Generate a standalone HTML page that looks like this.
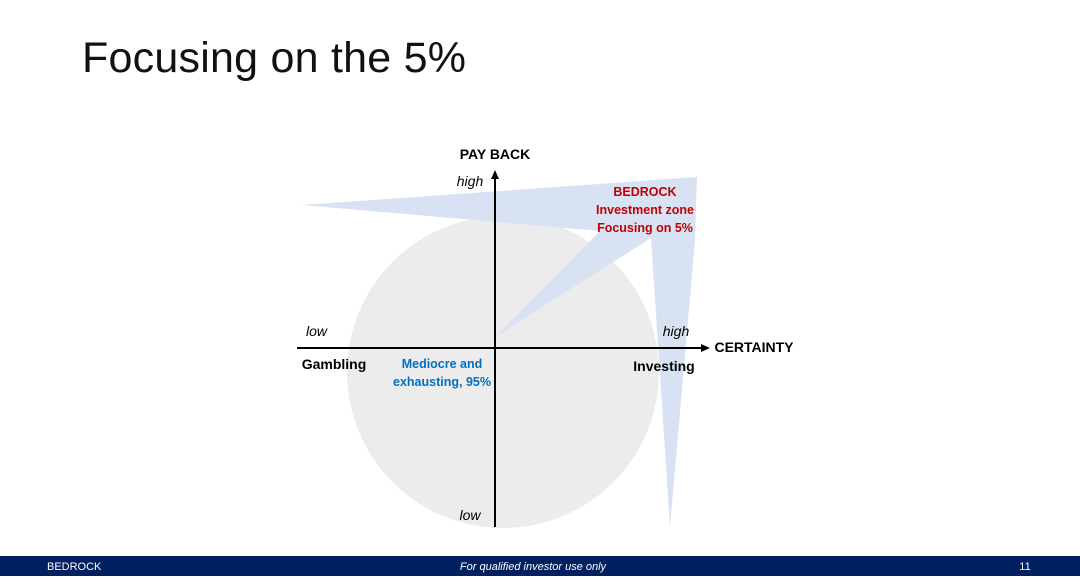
<!DOCTYPE html>
<html><head><meta charset="utf-8"><style>
body{margin:0;width:1080px;height:583px;background:#fff;overflow:hidden;font-family:"Liberation Sans",sans-serif}
</style></head><body>
<svg width="1080" height="583" xmlns="http://www.w3.org/2000/svg" style="position:absolute;left:0;top:0">
<text x="82" y="72" font-family="Liberation Sans, sans-serif" font-size="43" textLength="384" fill="#111">Focusing on the 5%</text>
<circle cx="503" cy="372" r="156" fill="#ececec"/>
<polygon points="302,205 697,177 695,240 670,527 651,238 495,337 600,231 302,205" fill="#d9e2f3"/>
<line x1="495" y1="176" x2="495" y2="527" stroke="#000" stroke-width="2"/>
<polygon points="495,170 491,179 499,179" fill="#000"/>
<line x1="297" y1="348" x2="704" y2="348" stroke="#000" stroke-width="2"/>
<polygon points="710,348 701,344 701,352" fill="#000"/>
<g font-family="Liberation Sans, sans-serif" font-size="14">
<text x="495" y="159" text-anchor="middle" font-weight="bold">PAY BACK</text>
<text x="470" y="186" text-anchor="middle" font-style="italic">high</text>
<text x="470" y="520" text-anchor="middle" font-style="italic">low</text>
<text x="306" y="336" font-style="italic">low</text>
<text x="676" y="336" text-anchor="middle" font-style="italic">high</text>
<text x="754" y="352" text-anchor="middle" font-weight="bold">CERTAINTY</text>
<text x="334" y="369" text-anchor="middle" font-weight="bold">Gambling</text>
<text x="664" y="371" text-anchor="middle" font-weight="bold">Investing</text>
</g>
<g font-family="Liberation Sans, sans-serif" font-size="12.5" font-weight="bold" text-anchor="middle">
<text x="442" y="368" fill="#0070c0">Mediocre and</text>
<text x="442" y="386" fill="#0070c0">exhausting, 95%</text>
<text x="645" y="196" fill="#c00000">BEDROCK</text>
<text x="645" y="214" fill="#c00000">Investment zone</text>
<text x="645" y="232" fill="#c00000">Focusing on 5%</text>
</g>
<rect x="0" y="556" width="1080" height="20" fill="#002060"/>
<g font-family="Liberation Sans, sans-serif" font-size="11" fill="#fff">
<text x="47" y="570">BEDROCK</text>
<text x="533" y="570" text-anchor="middle" font-style="italic">For qualified investor use only</text>
<text x="1025" y="570" text-anchor="middle">11</text>
</g>
</svg>
</body></html>
